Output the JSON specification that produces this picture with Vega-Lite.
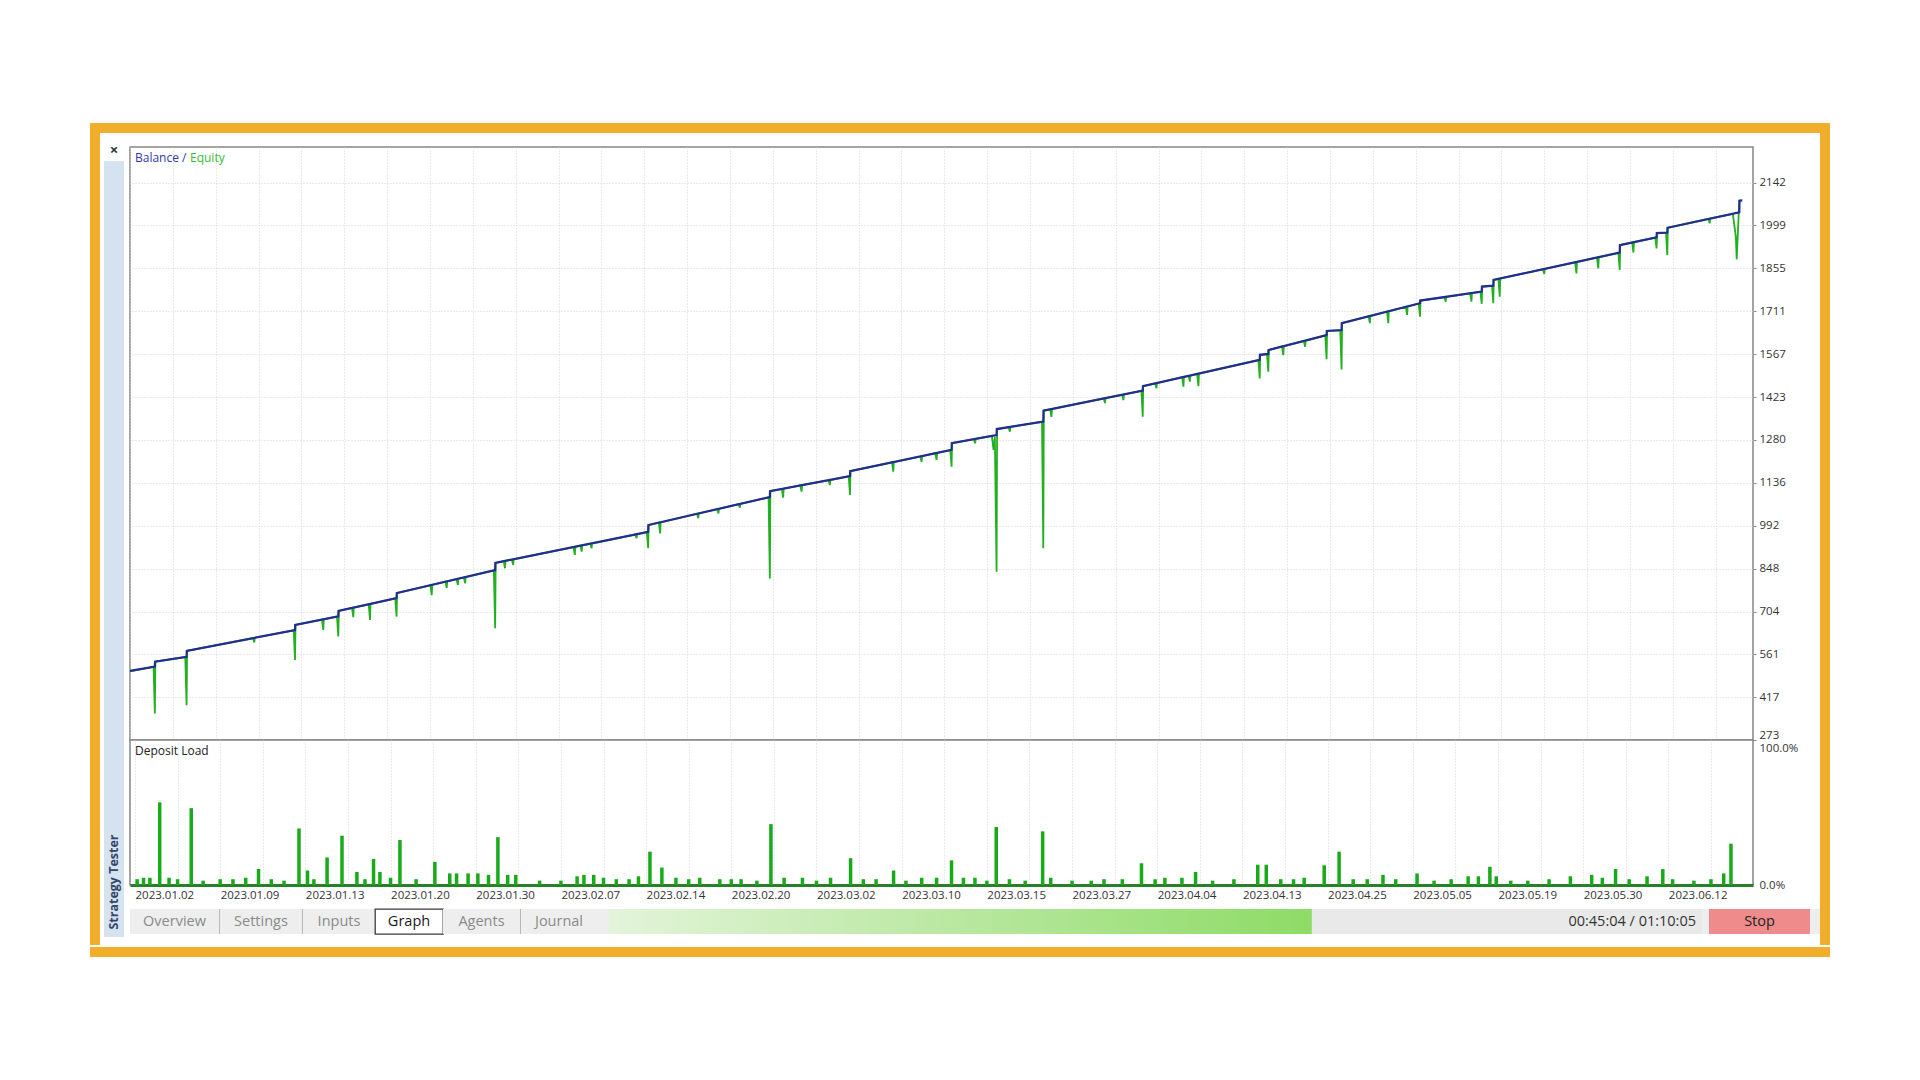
{
  "$schema": "https://vega.github.io/schema/vega-lite/v6.json",
  "background": "#ffffff",
  "padding": {"left": 90, "top": 123, "right": 90, "bottom": 125},
  "config": {
    "view": {"stroke": null},
    "concat": {"spacing": 0},
    "font": "Open Sans",
    "axis": {"labelFont": "Open Sans", "titleFont": "Open Sans"},
    "legend": {"labelFont": "Open Sans"}
  },
  "datasets": {
    "ui": [
      {"key": "close", "label": "×"},
      {"key": "tester", "label": "Strategy Tester"},
      {"key": "stop", "label": "Stop"}
    ],
    "tabs": [
      {"tab": "Overview", "active": false},
      {"tab": "Settings", "active": false},
      {"tab": "Inputs", "active": false},
      {"tab": "Graph", "active": true},
      {"tab": "Agents", "active": false},
      {"tab": "Journal", "active": false}
    ],
    "progress": [
      {"start": 0, "done": 64.3, "full": 100, "time": "00:45:04 / 01:10:05"}
    ],
    "balance": [
      {"t": 0, "v": 505}, {"t": 0.58, "v": 519}, {"t": 0.585, "v": 536},
      {"t": 1.32, "v": 552}, {"t": 1.325, "v": 572},
      {"t": 3.85, "v": 642}, {"t": 3.855, "v": 659},
      {"t": 4.86, "v": 688}, {"t": 4.865, "v": 706},
      {"t": 6.22, "v": 749}, {"t": 6.225, "v": 766},
      {"t": 8.52, "v": 843}, {"t": 8.525, "v": 867},
      {"t": 12.09, "v": 971}, {"t": 12.095, "v": 994},
      {"t": 14.93, "v": 1088}, {"t": 14.935, "v": 1108},
      {"t": 16.8, "v": 1158}, {"t": 16.805, "v": 1175},
      {"t": 19.17, "v": 1246}, {"t": 19.175, "v": 1269},
      {"t": 20.22, "v": 1296}, {"t": 20.225, "v": 1316},
      {"t": 21.31, "v": 1341}, {"t": 21.315, "v": 1378},
      {"t": 23.63, "v": 1445}, {"t": 23.635, "v": 1460},
      {"t": 26.36, "v": 1548}, {"t": 26.365, "v": 1565},
      {"t": 26.56, "v": 1568}, {"t": 26.565, "v": 1581},
      {"t": 27.92, "v": 1631}, {"t": 27.925, "v": 1645},
      {"t": 28.27, "v": 1648}, {"t": 28.275, "v": 1671},
      {"t": 30.1, "v": 1738}, {"t": 30.105, "v": 1747},
      {"t": 31.54, "v": 1777}, {"t": 31.545, "v": 1794},
      {"t": 31.81, "v": 1797}, {"t": 31.815, "v": 1816},
      {"t": 34.76, "v": 1908}, {"t": 34.765, "v": 1933},
      {"t": 35.62, "v": 1959}, {"t": 35.625, "v": 1973},
      {"t": 35.87, "v": 1975}, {"t": 35.875, "v": 1991},
      {"t": 37.55, "v": 2043}, {"t": 37.555, "v": 2082},
      {"t": 37.62, "v": 2083}
    ],
    "equity": [
      {"t": 0, "v": 503},
      {"t": 0.55, "v": 518}, {"t": 0.58, "v": 362}, {"t": 0.592, "v": 536},
      {"t": 1.29, "v": 551}, {"t": 1.32, "v": 390}, {"t": 1.332, "v": 572},
      {"t": 2.87, "v": 615}, {"t": 2.9, "v": 600}, {"t": 2.912, "v": 616},
      {"t": 3.82, "v": 641}, {"t": 3.85, "v": 541}, {"t": 3.862, "v": 659},
      {"t": 4.48, "v": 677}, {"t": 4.51, "v": 642}, {"t": 4.522, "v": 678},
      {"t": 4.83, "v": 687}, {"t": 4.86, "v": 620}, {"t": 4.872, "v": 706},
      {"t": 5.18, "v": 716}, {"t": 5.21, "v": 685}, {"t": 5.222, "v": 717},
      {"t": 5.57, "v": 728}, {"t": 5.6, "v": 676}, {"t": 5.612, "v": 729},
      {"t": 6.19, "v": 748}, {"t": 6.22, "v": 687}, {"t": 6.232, "v": 766},
      {"t": 7.01, "v": 792}, {"t": 7.04, "v": 759}, {"t": 7.052, "v": 793},
      {"t": 7.36, "v": 804}, {"t": 7.39, "v": 783}, {"t": 7.402, "v": 805},
      {"t": 7.62, "v": 813}, {"t": 7.65, "v": 793}, {"t": 7.662, "v": 814},
      {"t": 7.79, "v": 818}, {"t": 7.82, "v": 799}, {"t": 7.832, "v": 819},
      {"t": 8.49, "v": 842}, {"t": 8.52, "v": 648}, {"t": 8.532, "v": 867},
      {"t": 8.72, "v": 873}, {"t": 8.75, "v": 849}, {"t": 8.762, "v": 874},
      {"t": 8.91, "v": 878}, {"t": 8.94, "v": 860}, {"t": 8.952, "v": 879},
      {"t": 10.35, "v": 920}, {"t": 10.38, "v": 894}, {"t": 10.392, "v": 921},
      {"t": 10.51, "v": 925}, {"t": 10.54, "v": 905}, {"t": 10.552, "v": 926},
      {"t": 10.74, "v": 931}, {"t": 10.77, "v": 916}, {"t": 10.782, "v": 932},
      {"t": 11.79, "v": 962}, {"t": 11.82, "v": 950}, {"t": 11.832, "v": 963},
      {"t": 12.06, "v": 970}, {"t": 12.09, "v": 916}, {"t": 12.102, "v": 994},
      {"t": 12.34, "v": 1002}, {"t": 12.37, "v": 966}, {"t": 12.382, "v": 1003},
      {"t": 13.23, "v": 1032}, {"t": 13.26, "v": 1017}, {"t": 13.272, "v": 1033},
      {"t": 13.7, "v": 1047}, {"t": 13.73, "v": 1033}, {"t": 13.742, "v": 1048},
      {"t": 14.2, "v": 1064}, {"t": 14.23, "v": 1052}, {"t": 14.242, "v": 1065},
      {"t": 14.9, "v": 1087}, {"t": 14.93, "v": 815}, {"t": 14.942, "v": 1108},
      {"t": 15.21, "v": 1115}, {"t": 15.24, "v": 1086}, {"t": 15.252, "v": 1116},
      {"t": 15.64, "v": 1127}, {"t": 15.67, "v": 1106}, {"t": 15.682, "v": 1128},
      {"t": 16.3, "v": 1144}, {"t": 16.33, "v": 1128}, {"t": 16.342, "v": 1145},
      {"t": 16.77, "v": 1157}, {"t": 16.8, "v": 1095}, {"t": 16.812, "v": 1175},
      {"t": 17.78, "v": 1204}, {"t": 17.81, "v": 1173}, {"t": 17.822, "v": 1205},
      {"t": 18.44, "v": 1224}, {"t": 18.47, "v": 1206}, {"t": 18.482, "v": 1225},
      {"t": 18.79, "v": 1235}, {"t": 18.82, "v": 1212}, {"t": 18.832, "v": 1236},
      {"t": 19.14, "v": 1245}, {"t": 19.17, "v": 1190}, {"t": 19.182, "v": 1269},
      {"t": 19.69, "v": 1282}, {"t": 19.72, "v": 1268}, {"t": 19.732, "v": 1283},
      {"t": 20.11, "v": 1293}, {"t": 20.15, "v": 1246}, {"t": 20.18, "v": 1290},
      {"t": 20.22, "v": 837}, {"t": 20.232, "v": 1316},
      {"t": 20.5, "v": 1322}, {"t": 20.53, "v": 1307}, {"t": 20.542, "v": 1323},
      {"t": 21.28, "v": 1340}, {"t": 21.31, "v": 916}, {"t": 21.322, "v": 1378},
      {"t": 21.47, "v": 1382}, {"t": 21.5, "v": 1357}, {"t": 21.512, "v": 1383},
      {"t": 22.72, "v": 1419}, {"t": 22.75, "v": 1403}, {"t": 22.762, "v": 1420},
      {"t": 23.15, "v": 1431}, {"t": 23.18, "v": 1413}, {"t": 23.192, "v": 1432},
      {"t": 23.6, "v": 1444}, {"t": 23.63, "v": 1357}, {"t": 23.642, "v": 1460},
      {"t": 23.92, "v": 1469}, {"t": 23.95, "v": 1453}, {"t": 23.962, "v": 1470},
      {"t": 24.55, "v": 1490}, {"t": 24.58, "v": 1458}, {"t": 24.592, "v": 1491},
      {"t": 24.7, "v": 1494}, {"t": 24.73, "v": 1475}, {"t": 24.742, "v": 1495},
      {"t": 24.9, "v": 1501}, {"t": 24.93, "v": 1460}, {"t": 24.942, "v": 1502},
      {"t": 26.33, "v": 1547}, {"t": 26.36, "v": 1486}, {"t": 26.372, "v": 1565},
      {"t": 26.53, "v": 1567}, {"t": 26.56, "v": 1508}, {"t": 26.572, "v": 1581},
      {"t": 26.88, "v": 1593}, {"t": 26.91, "v": 1564}, {"t": 26.922, "v": 1594},
      {"t": 27.39, "v": 1611}, {"t": 27.42, "v": 1592}, {"t": 27.432, "v": 1612},
      {"t": 27.89, "v": 1630}, {"t": 27.92, "v": 1550}, {"t": 27.932, "v": 1645},
      {"t": 28.24, "v": 1647}, {"t": 28.27, "v": 1516}, {"t": 28.282, "v": 1671},
      {"t": 28.9, "v": 1694}, {"t": 28.93, "v": 1671}, {"t": 28.942, "v": 1695},
      {"t": 29.33, "v": 1710}, {"t": 29.36, "v": 1671}, {"t": 29.372, "v": 1711},
      {"t": 29.77, "v": 1726}, {"t": 29.8, "v": 1699}, {"t": 29.812, "v": 1727},
      {"t": 30.07, "v": 1737}, {"t": 30.1, "v": 1693}, {"t": 30.112, "v": 1747},
      {"t": 30.67, "v": 1758}, {"t": 30.7, "v": 1743}, {"t": 30.712, "v": 1759},
      {"t": 31.27, "v": 1771}, {"t": 31.3, "v": 1743}, {"t": 31.312, "v": 1772},
      {"t": 31.51, "v": 1776}, {"t": 31.54, "v": 1736}, {"t": 31.552, "v": 1794},
      {"t": 31.78, "v": 1796}, {"t": 31.81, "v": 1738}, {"t": 31.822, "v": 1816},
      {"t": 31.93, "v": 1820}, {"t": 31.96, "v": 1760}, {"t": 31.972, "v": 1821},
      {"t": 32.97, "v": 1852}, {"t": 33.0, "v": 1836}, {"t": 33.012, "v": 1853},
      {"t": 33.72, "v": 1875}, {"t": 33.75, "v": 1838}, {"t": 33.762, "v": 1876},
      {"t": 34.23, "v": 1891}, {"t": 34.26, "v": 1855}, {"t": 34.272, "v": 1892},
      {"t": 34.73, "v": 1907}, {"t": 34.76, "v": 1850}, {"t": 34.772, "v": 1933},
      {"t": 35.05, "v": 1942}, {"t": 35.08, "v": 1908}, {"t": 35.092, "v": 1943},
      {"t": 35.59, "v": 1958}, {"t": 35.62, "v": 1922}, {"t": 35.632, "v": 1973},
      {"t": 35.84, "v": 1974}, {"t": 35.87, "v": 1900}, {"t": 35.882, "v": 1991},
      {"t": 36.83, "v": 2021}, {"t": 36.86, "v": 2006}, {"t": 36.872, "v": 2022},
      {"t": 37.4, "v": 2038}, {"t": 37.47, "v": 1960}, {"t": 37.49, "v": 1885},
      {"t": 37.55, "v": 2082}, {"t": 37.6, "v": 2083}
    ],
    "load": [
      {"t": 0.05, "load": 4}, {"t": 0.2, "load": 5}, {"t": 0.35, "load": 5}, {"t": 0.58, "load": 57},
      {"t": 0.8, "load": 5}, {"t": 1.0, "load": 4}, {"t": 1.32, "load": 53}, {"t": 1.6, "load": 3},
      {"t": 2.0, "load": 4}, {"t": 2.3, "load": 4}, {"t": 2.6, "load": 5}, {"t": 2.9, "load": 11},
      {"t": 3.2, "load": 4}, {"t": 3.5, "load": 3}, {"t": 3.85, "load": 39}, {"t": 4.05, "load": 10},
      {"t": 4.2, "load": 4}, {"t": 4.51, "load": 19}, {"t": 4.86, "load": 34}, {"t": 5.21, "load": 9},
      {"t": 5.4, "load": 4}, {"t": 5.6, "load": 18}, {"t": 5.75, "load": 9}, {"t": 6.0, "load": 5},
      {"t": 6.22, "load": 31}, {"t": 6.6, "load": 4}, {"t": 7.04, "load": 16}, {"t": 7.39, "load": 8},
      {"t": 7.55, "load": 8}, {"t": 7.82, "load": 8}, {"t": 8.05, "load": 8}, {"t": 8.3, "load": 7},
      {"t": 8.52, "load": 33}, {"t": 8.75, "load": 7}, {"t": 8.94, "load": 7}, {"t": 9.5, "load": 3},
      {"t": 10.0, "load": 3}, {"t": 10.38, "load": 6}, {"t": 10.54, "load": 7}, {"t": 10.77, "load": 7},
      {"t": 11.0, "load": 5}, {"t": 11.3, "load": 4}, {"t": 11.6, "load": 4}, {"t": 11.82, "load": 6},
      {"t": 12.09, "load": 23}, {"t": 12.37, "load": 12}, {"t": 12.7, "load": 5}, {"t": 13.0, "load": 4},
      {"t": 13.26, "load": 5}, {"t": 13.73, "load": 4}, {"t": 14.0, "load": 4}, {"t": 14.23, "load": 4},
      {"t": 14.6, "load": 3}, {"t": 14.93, "load": 42}, {"t": 15.24, "load": 5}, {"t": 15.67, "load": 5},
      {"t": 16.0, "load": 3}, {"t": 16.33, "load": 5}, {"t": 16.8, "load": 18.5}, {"t": 17.1, "load": 4},
      {"t": 17.4, "load": 4}, {"t": 17.81, "load": 10}, {"t": 18.1, "load": 3}, {"t": 18.47, "load": 5},
      {"t": 18.82, "load": 5}, {"t": 19.17, "load": 17}, {"t": 19.45, "load": 5}, {"t": 19.72, "load": 5},
      {"t": 20.0, "load": 3}, {"t": 20.22, "load": 40}, {"t": 20.53, "load": 4}, {"t": 20.9, "load": 3},
      {"t": 21.31, "load": 37}, {"t": 21.5, "load": 5}, {"t": 22.0, "load": 3}, {"t": 22.45, "load": 3},
      {"t": 22.75, "load": 4}, {"t": 23.18, "load": 4}, {"t": 23.63, "load": 15}, {"t": 23.95, "load": 4},
      {"t": 24.18, "load": 5}, {"t": 24.58, "load": 5}, {"t": 24.9, "load": 9}, {"t": 25.3, "load": 3},
      {"t": 25.8, "load": 4}, {"t": 26.36, "load": 14}, {"t": 26.56, "load": 14}, {"t": 26.9, "load": 4},
      {"t": 27.2, "load": 4}, {"t": 27.45, "load": 5}, {"t": 27.92, "load": 13.6}, {"t": 28.27, "load": 23},
      {"t": 28.6, "load": 4}, {"t": 28.93, "load": 4}, {"t": 29.3, "load": 7}, {"t": 29.6, "load": 4},
      {"t": 30.1, "load": 8}, {"t": 30.5, "load": 3}, {"t": 30.9, "load": 4}, {"t": 31.3, "load": 6},
      {"t": 31.54, "load": 6}, {"t": 31.81, "load": 12.6}, {"t": 31.96, "load": 6}, {"t": 32.3, "load": 3},
      {"t": 32.7, "load": 3}, {"t": 33.2, "load": 4}, {"t": 33.7, "load": 6}, {"t": 34.2, "load": 7},
      {"t": 34.45, "load": 5}, {"t": 34.76, "load": 11}, {"t": 35.08, "load": 4}, {"t": 35.5, "load": 6},
      {"t": 35.87, "load": 11}, {"t": 36.1, "load": 4}, {"t": 36.6, "load": 3}, {"t": 37.0, "load": 4},
      {"t": 37.3, "load": 8}, {"t": 37.47, "load": 28.5}
    ]
  },
  "spacing": 0,
  "resolve": {"scale": {"color": "independent"}, "legend": {"color": "independent"}},
  "vconcat": [
    {"width": 1740, "height": 10, "data": {"values": []}, "mark": "point", "view": {"fill": "#F1AE2B"}},
    {
      "spacing": 0,
      "resolve": {"scale": {"color": "independent"}, "legend": {"color": "independent"}},
      "hconcat": [
        {"width": 10, "height": 812, "data": {"values": []}, "mark": "point", "view": {"fill": "#F1AE2B"}},
        {
          "spacing": 0,
          "resolve": {"scale": {"color": "independent"}, "legend": {"color": "independent"}},
          "hconcat": [
            {
              "spacing": 0,
              "vconcat": [
                {
                  "width": 24, "height": 28,
                  "data": {"name": "ui"},
                  "transform": [{"filter": "datum.key === 'close'"}],
                  "mark": {"type": "text", "fontSize": 15, "fontWeight": "bold", "color": "#333333", "dy": 3, "dx": 2},
                  "encoding": {"text": {"field": "label"}}
                },
                {
                  "spacing": 0,
                  "hconcat": [
                    {"width": 4, "height": 776, "data": {"values": []}, "mark": "point"},
                    {
                      "spacing": 0,
                      "vconcat": [
                        {"width": 20, "height": 666, "data": {"values": []}, "mark": "point", "view": {"fill": "#d5e2ef"}},
                        {
                          "width": 20, "height": 110,
                          "view": {"fill": "#d5e2ef"},
                          "data": {"name": "ui"},
                          "transform": [{"filter": "datum.key === 'tester'"}],
                          "mark": {"type": "text", "angle": 270, "fontSize": 12.5, "fontWeight": "bold", "color": "#34456a"},
                          "encoding": {"text": {"field": "label"}}
                        }
                      ]
                    }
                  ]
                },
                {"width": 24, "height": 8, "data": {"values": []}, "mark": "point"}
              ]
            },
            {
              "spacing": 0,
              "resolve": {"scale": {"color": "independent"}, "legend": {"color": "independent"}},
              "vconcat": [
                {
                  "spacing": 0,
                  "bounds": "flush",
                  "resolve": {"scale": {"color": "independent"}, "legend": {"color": "independent"}},
                  "vconcat": [
                    {"width": 1623, "height": 14, "data": {"values": []}, "mark": "point"},
                    {
                      "width": 1623, "height": 593,
                      "view": {"fill": "#ffffff", "stroke": "#858585", "strokeWidth": 1.5},
                      "layer": [
                        {
                          "data": {"name": "equity"},
                          "mark": {"type": "line", "strokeWidth": 1.8},
                          "encoding": {
                            "x": {
                              "field": "t", "type": "quantitative",
                              "scale": {"domain": [0, 37.87], "nice": false, "zero": false},
                              "axis": {
                                "orient": "bottom", "title": null, "labels": false, "ticks": false, "domain": false,
                                "grid": true, "gridColor": "#d4d4d4", "gridDash": [1, 2], "gridWidth": 1,
                                "values": [0,1,2,3,4,5,6,7,8,9,10,11,12,13,14,15,16,17,18,19,20,21,22,23,24,25,26,27,28,29,30,31,32,33,34,35,36,37]
                              }
                            },
                            "y": {
                              "field": "v", "type": "quantitative",
                              "scale": {"domain": [273, 2262], "nice": false, "zero": false},
                              "axis": {
                                "orient": "right", "title": null, "format": "d",
                                "values": [273, 417, 561, 704, 848, 992, 1136, 1280, 1423, 1567, 1711, 1855, 1999, 2142],
                                "grid": true, "gridColor": "#d4d4d4", "gridDash": [1, 2], "gridWidth": 1,
                                "domain": false, "ticks": true, "tickSize": 3, "tickColor": "#888888",
                                "labelPadding": 3, "labelFontSize": 11.5, "labelColor": "#333333",
                                "labelFlush": false,
                                "labelBaseline": {"condition": {"test": "datum.value === 273", "value": "bottom"}, "value": "middle"}
                              }
                            },
                            "color": {
                              "datum": "Equity",
                              "scale": {"domain": ["Balance", "Equity"], "range": ["#232c92", "#20b020"]},
                              "legend": {
                                "orient": "top-left", "offset": 5, "padding": 0, "direction": "horizontal",
                                "title": null, "symbolSize": 0, "symbolOpacity": 0, "symbolStrokeWidth": 0,
                                "labelOffset": -12, "columnPadding": 3, "labelFontSize": 12,
                                "labelExpr": "datum.label === 'Balance' ? 'Balance /' : datum.label",
                                "encode": {"labels": {"update": {"fill": {"signal": "datum.value === 'Balance' ? '#3038b0' : '#34c034'"}}}}
                              }
                            }
                          }
                        },
                        {
                          "data": {"name": "balance"},
                          "mark": {"type": "line", "strokeWidth": 2.2},
                          "encoding": {
                            "x": {"field": "t", "type": "quantitative"},
                            "y": {"field": "v", "type": "quantitative"},
                            "color": {"datum": "Balance"}
                          }
                        }
                      ]
                    },
                    {
                      "width": 1623, "height": 145,
                      "view": {"fill": "#ffffff", "stroke": "#858585", "strokeWidth": 1.5},
                      "data": {"name": "load"},
                      "mark": {"type": "bar", "orient": "vertical", "width": 3.5},
                      "encoding": {
                        "x": {
                          "field": "t", "type": "quantitative",
                          "scale": {"domain": [0, 37.87], "nice": false, "zero": false},
                          "axis": {
                            "orient": "bottom", "title": null, "ticks": false,
                            "domain": true, "domainColor": "#2a7f2a", "domainWidth": 3,
                            "grid": true, "gridColor": "#d4d4d4", "gridDash": [1, 2], "gridWidth": 1,
                            "values": [0,1,2,3,4,5,6,7,8,9,10,11,12,13,14,15,16,17,18,19,20,21,22,23,24,25,26,27,28,29,30,31,32,33,34,35,36,37],
                            "labelExpr": "datum.value % 2 === 0 ? ['2023.01.02','2023.01.09','2023.01.13','2023.01.20','2023.01.30','2023.02.07','2023.02.14','2023.02.20','2023.03.02','2023.03.10','2023.03.15','2023.03.27','2023.04.04','2023.04.13','2023.04.25','2023.05.05','2023.05.19','2023.05.30','2023.06.12'][datum.value / 2] : ''",
                            "labelAlign": "left", "labelBaseline": "top", "labelPadding": 4, "labelOverlap": false,
                            "labelFlush": false, "labelBound": false, "labelFontSize": 11.5, "labelColor": "#333333"
                          }
                        },
                        "y": {
                          "field": "load", "type": "quantitative",
                          "scale": {"domain": [0, 100], "nice": false},
                          "axis": {
                            "orient": "right", "title": null, "values": [0, 100],
                            "labelExpr": "format(datum.value, '.1f') + '%'",
                            "grid": false, "domain": false, "ticks": false, "labelPadding": 6,
                            "labelFlush": false,
                            "labelBaseline": {"condition": {"test": "datum.value === 100", "value": "top"}, "value": "middle"},
                            "labelOffset": {"condition": {"test": "datum.value === 100", "value": 2}, "value": 0},
                            "labelFontSize": 11.5, "labelColor": "#333333"
                          }
                        },
                        "color": {
                          "datum": "Deposit Load",
                          "scale": {"domain": ["Deposit Load"], "range": ["#19aa19"]},
                          "legend": {
                            "orient": "top-left", "offset": 5, "padding": 0, "direction": "horizontal",
                            "title": null, "symbolSize": 0, "symbolOpacity": 0, "symbolStrokeWidth": 0,
                            "labelOffset": -12, "labelFontSize": 12, "labelColor": "#222222"
                          }
                        }
                      }
                    },
                    {"width": 1623, "height": 23, "data": {"values": []}, "mark": "point"}
                  ]
                },
                {
                  "spacing": 0,
                  "bounds": "flush",
                  "hconcat": [
                    {"width": 89, "height": 25, "view": {"fill": "#eeeeee"}, "data": {"name": "tabs"}, "transform": [{"filter": "datum.tab === 'Overview'"}], "mark": {"type": "text", "fontSize": 14.5, "color": "#8a8a8a"}, "encoding": {"text": {"field": "tab"}}},
                    {"width": 1, "height": 25, "data": {"values": []}, "mark": "point", "view": {"fill": "#b8b8b8"}},
                    {"width": 82, "height": 25, "view": {"fill": "#eeeeee"}, "data": {"name": "tabs"}, "transform": [{"filter": "datum.tab === 'Settings'"}], "mark": {"type": "text", "fontSize": 14.5, "color": "#8a8a8a"}, "encoding": {"text": {"field": "tab"}}},
                    {"width": 1, "height": 25, "data": {"values": []}, "mark": "point", "view": {"fill": "#b8b8b8"}},
                    {"width": 72, "height": 25, "view": {"fill": "#eeeeee"}, "data": {"name": "tabs"}, "transform": [{"filter": "datum.tab === 'Inputs'"}], "mark": {"type": "text", "fontSize": 14.5, "color": "#8a8a8a"}, "encoding": {"text": {"field": "tab"}}},
                    {"width": 68, "height": 25, "view": {"fill": "#ffffff", "stroke": "#3a3a3a", "strokeWidth": 1.3}, "data": {"name": "tabs"}, "transform": [{"filter": "datum.tab === 'Graph'"}], "mark": {"type": "text", "fontSize": 14.5, "color": "#1a1a1a"}, "encoding": {"text": {"field": "tab"}}},
                    {"width": 77, "height": 25, "view": {"fill": "#eeeeee"}, "data": {"name": "tabs"}, "transform": [{"filter": "datum.tab === 'Agents'"}], "mark": {"type": "text", "fontSize": 14.5, "color": "#8a8a8a"}, "encoding": {"text": {"field": "tab"}}},
                    {"width": 1, "height": 25, "data": {"values": []}, "mark": "point", "view": {"fill": "#b8b8b8"}},
                    {"width": 76, "height": 25, "view": {"fill": "#eeeeee"}, "data": {"name": "tabs"}, "transform": [{"filter": "datum.tab === 'Journal'"}], "mark": {"type": "text", "fontSize": 14.5, "color": "#8a8a8a"}, "encoding": {"text": {"field": "tab"}}},
                    {"width": 12, "height": 25, "data": {"values": []}, "mark": "point", "view": {"fill": "#eeeeee"}},
                    {
                      "width": 1093, "height": 25,
                      "view": {"fill": "#e9e9e9"},
                      "data": {"name": "progress"},
                      "layer": [
                        {
                          "mark": {"type": "rect", "fill": {"x1": 0, "y1": 0, "x2": 1, "y2": 0, "gradient": "linear", "stops": [{"offset": 0, "color": "#e3f4da"}, {"offset": 1, "color": "#8edb66"}]}},
                          "encoding": {
                            "x": {"field": "start", "type": "quantitative", "scale": {"domain": [0, 100], "nice": false}, "axis": null},
                            "x2": {"field": "done"},
                            "y": {"datum": 0, "type": "quantitative", "scale": {"domain": [0, 1], "nice": false}, "axis": null},
                            "y2": {"datum": 1}
                          }
                        },
                        {
                          "mark": {"type": "text", "align": "right", "dx": -6, "fontSize": 14.5, "color": "#333333"},
                          "encoding": {"x": {"field": "full", "type": "quantitative", "axis": null}, "text": {"field": "time"}}
                        }
                      ]
                    },
                    {"width": 7, "height": 25, "data": {"values": []}, "mark": "point", "view": {"fill": "#eeeeee"}},
                    {"width": 101, "height": 25, "view": {"fill": "#f08b8b"}, "data": {"name": "ui"}, "transform": [{"filter": "datum.key === 'stop'"}], "mark": {"type": "text", "fontSize": 14.5, "color": "#222222"}, "encoding": {"text": {"field": "label"}}},
                    {"width": 10, "height": 25, "data": {"values": []}, "mark": "point", "view": {"fill": "#eeeeee"}}
                  ]
                },
                {"width": 1690, "height": 12, "data": {"values": []}, "mark": "point"}
              ]
            }
          ]
        },
        {"width": 10, "height": 812, "data": {"values": []}, "mark": "point", "view": {"fill": "#F1AE2B"}}
      ]
    },
    {"width": 1740, "height": 10, "data": {"values": []}, "mark": "point", "view": {"fill": "#F1AE2B"}}
  ]
}
